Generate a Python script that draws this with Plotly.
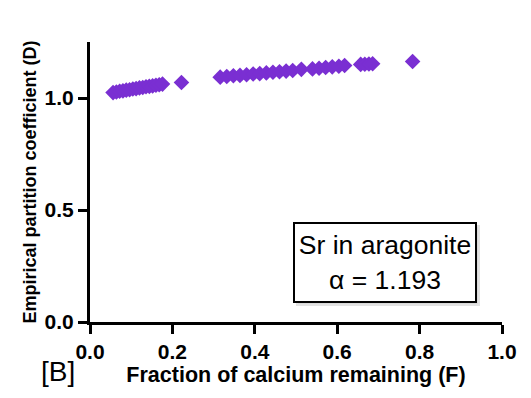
import plotly.graph_objects as go

# Fraction of calcium remaining (F) and empirical partition coefficient (D)
F_values = [0.056, 0.064, 0.072, 0.080, 0.088, 0.096, 0.104, 0.112, 0.120,
            0.128, 0.136, 0.144, 0.152, 0.160, 0.168, 0.176, 0.222,
            0.316, 0.332, 0.348, 0.364, 0.380, 0.396, 0.412, 0.428, 0.444,
            0.460, 0.476, 0.492, 0.513,
            0.540, 0.556, 0.572, 0.588, 0.604, 0.618,
            0.657, 0.667, 0.677, 0.686,
            0.783]
D_values = [1.024, 1.027, 1.030, 1.032, 1.035, 1.037, 1.040, 1.042, 1.045,
            1.047, 1.050, 1.052, 1.054, 1.057, 1.059, 1.062, 1.069,
            1.093, 1.096, 1.099, 1.101, 1.104, 1.107, 1.109, 1.112, 1.115,
            1.117, 1.120, 1.123, 1.128,
            1.130, 1.133, 1.136, 1.139, 1.142, 1.145,
            1.150, 1.151, 1.152, 1.153,
            1.163]

x_ticks = [0.0, 0.2, 0.4, 0.6, 0.8, 1.0]
y_ticks = [0.0, 0.5, 1.0]

box_text = "Sr in aragonite<br>α = 1.193"

FONT = "Liberation Sans, Arial, sans-serif"
PURPLE = "#7a2fd2"

fig = go.Figure()
fig.add_trace(go.Scatter(
    x=F_values, y=D_values, mode="markers",
    marker=dict(symbol="diamond", size=12, color=PURPLE, line=dict(width=0)),
    showlegend=False, cliponaxis=False,
))

axis_common = dict(
    showline=True, linecolor="black", linewidth=3,
    ticks="outside", ticklen=9, tickwidth=3, tickcolor="black",
    showgrid=False, zeroline=False, tickformat=".1f",
    tickfont=dict(family=FONT, size=21, color="black", weight="bold"),
)

box_common = dict(x=0.716, y=0.266, xref="x", yref="y", showarrow=False,
                  align="center", width=176, height=73, borderpad=2, borderwidth=2)

fig.update_layout(
    width=531, height=398,
    margin=dict(l=90, r=29, t=42, b=76),
    paper_bgcolor="white", plot_bgcolor="white",
    xaxis=dict(range=[0, 1.0], tickvals=x_ticks, **axis_common,
               title=dict(text="Fraction of calcium remaining (F)", standoff=5,
                          font=dict(family=FONT, size=21.5, color="black", weight="bold"))),
    yaxis=dict(range=[0, 1.25], tickvals=y_ticks, **axis_common,
               title=dict(text="Empirical partition coefficient (D)", standoff=4,
                          font=dict(family=FONT, size=18, color="black", weight="bold"))),
    annotations=[
        dict(**box_common, text=" ", xshift=3, yshift=-3,
             font=dict(family=FONT, size=10, color="#d9d9d9"),
             bgcolor="#d9d9d9", bordercolor="#e2e2e2"),
        dict(**box_common, text=box_text,
             font=dict(family=FONT, size=26.5, color="black"),
             bgcolor="white", bordercolor="black"),
        dict(x=-0.078, y=-0.175, xref="paper", yref="paper", text="[B]",
             showarrow=False, xanchor="center", yanchor="middle",
             font=dict(family=FONT, size=28, color="black")),
    ],
)

fig.write_html("out.html")
